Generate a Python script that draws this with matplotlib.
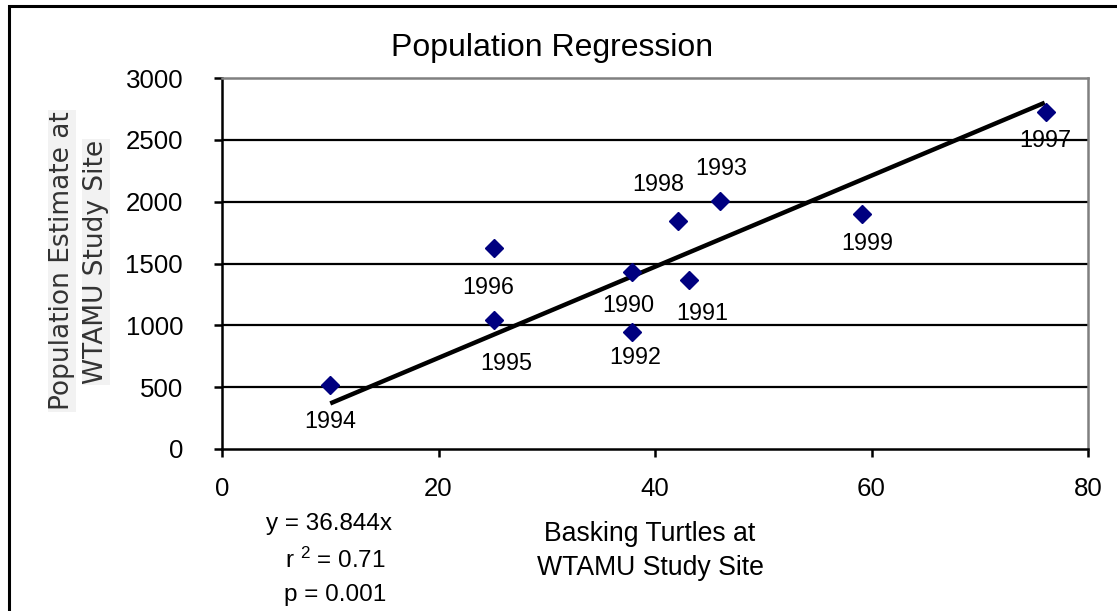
import numpy as np
import matplotlib.pyplot as plt
from matplotlib.patches import Rectangle

plt.rcParams['font.family'] = ['Liberation Sans', 'DejaVu Sans']
plt.rcParams['mathtext.fontset'] = 'custom'
plt.rcParams['mathtext.rm'] = 'Liberation Sans'
plt.rcParams['mathtext.it'] = 'Liberation Sans'

# data
years = ['1994', '1996', '1995', '1990', '1992', '1998', '1993', '1991', '1999', '1997']
turtles = [10, 25.1, 25.1, 37.9, 37.9, 42.1, 46.0, 43.1, 59.1, 76.1]
population = [520, 1625, 1040, 1430, 950, 1840, 2005, 1365, 1900, 2725]
slope = 36.844
fit_x = [10, 76]

# label offsets (pixels) for each data label
lab_dx = [0, -6, 13, -4, 3, -19, 1, 14, 5, -1]
lab_dy = [-37, -39, -43, -33, -26, 37, 33, -33, -29, -28]

fig = plt.figure(figsize=(11.17, 6.11), dpi=100)
W, H = 1117, 611
ax = fig.add_axes([222/W, 1-449/H, (1088-222)/W, (449-78)/H])

ax.set_xlim(0, 80)
ax.set_ylim(0, 3000)
ax.set_xticks(np.arange(0, 81, 20))
ax.set_yticks(np.arange(0, 3001, 500))
for yv in range(500, 3000, 500):
    ax.axhline(yv, color='black', lw=1.6, zorder=1)

fx = np.array(fit_x)
ax.plot(fx, slope*fx, color='black', lw=3.2, zorder=2, solid_capstyle='butt')
ax.plot(turtles, population, ls='none', marker='D', ms=9, color='#000080', zorder=3)

for yr, x, y, dx, dy in zip(years, turtles, population, lab_dx, lab_dy):
    ax.annotate(yr, (x, y), xytext=(dx, dy), textcoords='offset pixels',
                ha='center', va='center', fontsize=16.8, zorder=4)

for s in ['left', 'bottom']:
    ax.spines[s].set_color('black')
    ax.spines[s].set_linewidth(1.8)
for s in ['top', 'right']:
    ax.spines[s].set_color('#808080')
    ax.spines[s].set_linewidth(1.8)
ax.tick_params(axis='both', direction='out', length=6, width=1.8, labelsize=18.6)
ax.tick_params(axis='y', pad=22)
ax.tick_params(axis='x', pad=14)

fig.text(552/W, 1-48/H, 'Population Regression', ha='center', va='center', fontsize=23)
fig.text(650/W, 1-534/H, 'Basking Turtles at', ha='center', va='center', fontsize=19.2)
fig.text(650/W, 1-568/H, 'WTAMU Study Site', ha='center', va='center', fontsize=19.2)

fig.text(329/W, 1-524/H, 'y = 36.844x', ha='center', va='center', fontsize=17.5)
fig.text(335/W, 1-560/H, r'r $^{2}$ = 0.71', ha='center', va='center', fontsize=17.5)
fig.text(335/W, 1-595/H, 'p = 0.001', ha='center', va='center', fontsize=17.5)

box = dict(facecolor='#f2f2f2', edgecolor='none', pad=1)
fig.text(62/W, 1-261/H, 'Population Estimate at', rotation=90, ha='center', va='center',
         fontsize=19, color='#333333', family='DejaVu Sans', bbox=box)
fig.text(96/W, 1-262/H, 'WTAMU Study Site', rotation=90, ha='center', va='center',
         fontsize=19, color='#333333', family='DejaVu Sans', bbox=box)

fig.patches.append(Rectangle((9/W, -0.05), 1.2, 1-6/H+0.05, transform=fig.transFigure,
                             fill=False, edgecolor='black', lw=2.2))

fig.savefig('out.png', dpi=100)
